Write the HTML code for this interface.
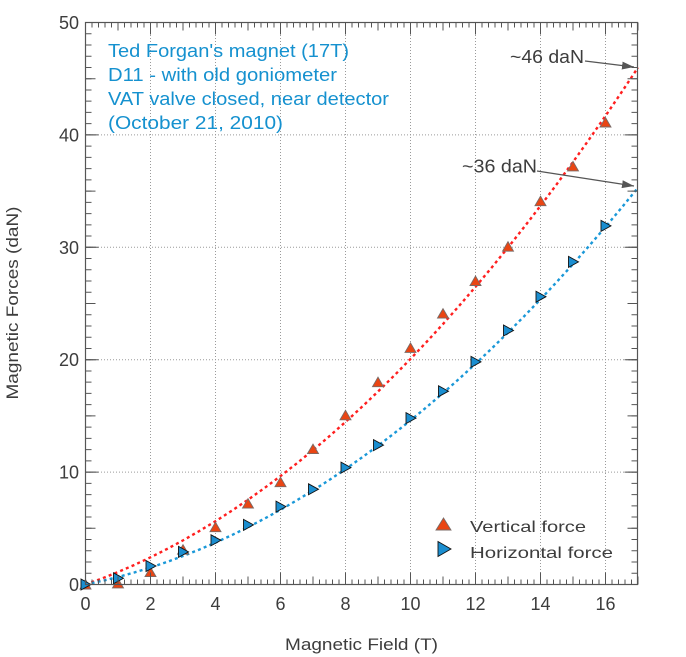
<!DOCTYPE html>
<html><head><meta charset="utf-8"><style>
html,body{margin:0;padding:0;background:#fff;}
svg{display:block;}
text{font-family:"Liberation Sans",Arial,sans-serif;}
</style></head><body>
<svg width="686" height="657" viewBox="0 0 686 657" xmlns="http://www.w3.org/2000/svg">
<defs>
<marker id="ah" viewBox="0 0 12 8" refX="12" refY="4" markerWidth="12" markerHeight="8" markerUnits="userSpaceOnUse" orient="auto">
<path d="M0,0 L12,4 L0,8 z" fill="#555"/>
</marker>
<polygon id="tu" points="-5.5,4.5 5.5,4.5 0,-5" fill="#ea4513" stroke="#7a6a66" stroke-width="0.9"/>
<polygon id="tr" points="-4.5,-5.5 -4.5,5.5 5.5,0" fill="#1b8ed0" stroke="#111" stroke-width="0.9"/>
</defs>
<rect width="686" height="657" fill="#fff"/>
<!-- grid -->
<g stroke="#9a9a9a" stroke-width="1" stroke-dasharray="1 2">
<line x1="150.5" y1="23" x2="150.5" y2="584"/>
<line x1="215.5" y1="23" x2="215.5" y2="584"/>
<line x1="280.5" y1="23" x2="280.5" y2="584"/>
<line x1="345.5" y1="23" x2="345.5" y2="584"/>
<line x1="410.5" y1="23" x2="410.5" y2="584"/>
<line x1="475.5" y1="23" x2="475.5" y2="584"/>
<line x1="540.5" y1="23" x2="540.5" y2="584"/>
<line x1="605.5" y1="23" x2="605.5" y2="584"/>
<line x1="86" y1="472.1" x2="637" y2="472.1"/>
<line x1="86" y1="359.7" x2="637" y2="359.7"/>
<line x1="86" y1="247.3" x2="637" y2="247.3"/>
<line x1="86" y1="134.9" x2="637" y2="134.9"/>
</g>
<!-- curves -->
<polyline fill="none" stroke="#ff1f1f" stroke-width="2.4" stroke-dasharray="3 3.2" points="85.5,584.5 101.75,578.55 118,572.04 134.25,564.97 150.5,557.33 166.75,549.13 183,540.38 199.25,531.06 215.5,521.19 231.75,510.75 248,499.75 264.25,488.19 280.5,476.07 296.75,463.39 313,450.15 329.25,436.35 345.5,421.98 361.75,407.05 378,391.57 394.25,375.52 410.5,358.91 426.75,341.75 443,324.01 459.25,305.72 475.5,286.88 491.75,267.46 508,247.49 524.25,226.96 540.5,205.86 556.75,184.21 573,161.99 589.25,139.21 605.5,115.87 621.75,91.97 638,67.52"/>
<polyline fill="none" stroke="#1a98d8" stroke-width="2.4" stroke-dasharray="3 3.2" points="85.5,584.5 101.75,581.0 118,577.0 134.25,572.51 150.5,567.52 166.75,562.04 183,556.06 199.25,549.59 215.5,542.62 231.75,535.16 248,527.2 264.25,518.75 280.5,509.8 296.75,500.36 313,490.42 329.25,479.99 345.5,469.06 361.75,457.64 378,445.72 394.25,433.3 410.5,420.4 426.75,407.01 443,393.09 459.25,378.7 475.5,363.81 491.75,348.43 508,332.54 524.25,316.17 540.5,299.3 556.75,281.93 573,264.07 589.25,245.72 605.5,226.87 621.75,207.52 638,187.69"/>
<!-- red markers -->
<use href="#tu" x="85.5" y="584.5"/>
<use href="#tu" x="118" y="583.4"/>
<use href="#tu" x="150.5" y="572.1"/>
<use href="#tu" x="183" y="549.7"/>
<use href="#tu" x="215.5" y="527.2"/>
<use href="#tu" x="248" y="503.6"/>
<use href="#tu" x="280.5" y="482.2"/>
<use href="#tu" x="313" y="449.1"/>
<use href="#tu" x="345.5" y="415.3"/>
<use href="#tu" x="378" y="382.2"/>
<use href="#tu" x="410.5" y="347.9"/>
<use href="#tu" x="443" y="313.6"/>
<use href="#tu" x="475.5" y="281.0"/>
<use href="#tu" x="508" y="246.7"/>
<use href="#tu" x="540.5" y="201.2"/>
<use href="#tu" x="573" y="166.4"/>
<use href="#tu" x="605.5" y="122.5"/>
<!-- blue markers -->
<use href="#tr" x="85.5" y="584.5"/>
<use href="#tr" x="118" y="578.3"/>
<use href="#tr" x="150.5" y="566.0"/>
<use href="#tr" x="183" y="551.9"/>
<use href="#tr" x="215.5" y="540.3"/>
<use href="#tr" x="248" y="524.9"/>
<use href="#tr" x="280.5" y="506.6"/>
<use href="#tr" x="313" y="489.3"/>
<use href="#tr" x="345.5" y="467.6"/>
<use href="#tr" x="378" y="445.1"/>
<use href="#tr" x="410.5" y="418.1"/>
<use href="#tr" x="443" y="391.2"/>
<use href="#tr" x="475.5" y="361.9"/>
<use href="#tr" x="508" y="330.5"/>
<use href="#tr" x="540.5" y="296.7"/>
<use href="#tr" x="573" y="261.9"/>
<use href="#tr" x="605.5" y="225.9"/>
<!-- ticks -->
<g stroke="#555">
<line x1="85" y1="582" x2="639" y2="582" stroke-width="5" stroke-dasharray="1 5.5"/>
<line x1="85" y1="580.5" x2="639" y2="580.5" stroke-width="8" stroke-dasharray="1 31.5"/>
<line x1="85" y1="578.5" x2="639" y2="578.5" stroke-width="12" stroke-dasharray="1 64"/>
<line x1="85" y1="25" x2="639" y2="25" stroke-width="5" stroke-dasharray="1 5.5"/>
<line x1="85" y1="26.5" x2="639" y2="26.5" stroke-width="8" stroke-dasharray="1 31.5"/>
<line x1="85" y1="28.5" x2="639" y2="28.5" stroke-width="12" stroke-dasharray="1 64"/>
<line x1="88.5" y1="585" x2="88.5" y2="20" stroke-width="6" stroke-dasharray="1 10.24"/>
<line x1="90.5" y1="585" x2="90.5" y2="20" stroke-width="10" stroke-dasharray="1 55.2"/>
<line x1="92" y1="585" x2="92" y2="20" stroke-width="13" stroke-dasharray="1 111.4"/>
<line x1="634.5" y1="585" x2="634.5" y2="20" stroke-width="6" stroke-dasharray="1 10.24"/>
<line x1="632.5" y1="585" x2="632.5" y2="20" stroke-width="10" stroke-dasharray="1 55.2"/>
<line x1="631" y1="585" x2="631" y2="20" stroke-width="13" stroke-dasharray="1 111.4"/>
</g>
<rect x="85.5" y="22.5" width="552" height="562" fill="none" stroke="#555" stroke-width="1.2"/>
<!-- tick labels -->
<g fill="#3d3d3d" font-size="18" text-anchor="end">
<text x="79" y="591">0</text>
<text x="79" y="478.6">10</text>
<text x="79" y="366.2">20</text>
<text x="79" y="253.8">30</text>
<text x="79" y="141.4">40</text>
<text x="79" y="29">50</text>
</g>
<g fill="#3d3d3d" font-size="18" text-anchor="middle">
<text x="85.5" y="610">0</text>
<text x="150.5" y="610">2</text>
<text x="215.5" y="610">4</text>
<text x="280.5" y="610">6</text>
<text x="345.5" y="610">8</text>
<text x="410.5" y="610">10</text>
<text x="475.5" y="610">12</text>
<text x="540.5" y="610">14</text>
<text x="605.5" y="610">16</text>
</g>
<!-- axis titles -->
<text x="285" y="650" font-size="17" fill="#3d3d3d" textLength="153" lengthAdjust="spacingAndGlyphs">Magnetic Field (T)</text>
<text transform="translate(18,303) rotate(-90)" x="0" y="0" font-size="17" fill="#3d3d3d" text-anchor="middle" textLength="193" lengthAdjust="spacingAndGlyphs">Magnetic Forces (daN)</text>
<!-- info text -->
<g fill="#1591cf" font-size="18">
<text x="108" y="57" textLength="241" lengthAdjust="spacingAndGlyphs">Ted Forgan's magnet (17T)</text>
<text x="108" y="81" textLength="229" lengthAdjust="spacingAndGlyphs">D11 - with old goniometer</text>
<text x="108" y="105" textLength="281" lengthAdjust="spacingAndGlyphs">VAT valve closed, near detector</text>
<text x="108" y="129" textLength="175" lengthAdjust="spacingAndGlyphs">(October 21, 2010)</text>
</g>
<!-- annotations -->
<text x="510" y="63" font-size="18" fill="#3d3d3d" textLength="74" lengthAdjust="spacingAndGlyphs">~46 daN</text>
<text x="462" y="172.5" font-size="18" fill="#3d3d3d" textLength="75" lengthAdjust="spacingAndGlyphs">~36 daN</text>
<line x1="585" y1="61" x2="634" y2="67" stroke="#555" stroke-width="1.2" marker-end="url(#ah)"/>
<line x1="537" y1="171" x2="634" y2="186" stroke="#555" stroke-width="1.2" marker-end="url(#ah)"/>
<!-- legend -->
<polygon points="436,530 451,530 443.5,518" fill="#ea4513" stroke="#7a6a66" stroke-width="0.9"/>
<polygon points="438,541.5 438,556.5 451,549" fill="#1b8ed0" stroke="#111" stroke-width="0.9"/>
<g fill="#3d3d3d" font-size="16">
<text x="470" y="532" textLength="116" lengthAdjust="spacingAndGlyphs">Vertical force</text>
<text x="470" y="558" textLength="143" lengthAdjust="spacingAndGlyphs">Horizontal force</text>
</g>
</svg>
</body></html>
